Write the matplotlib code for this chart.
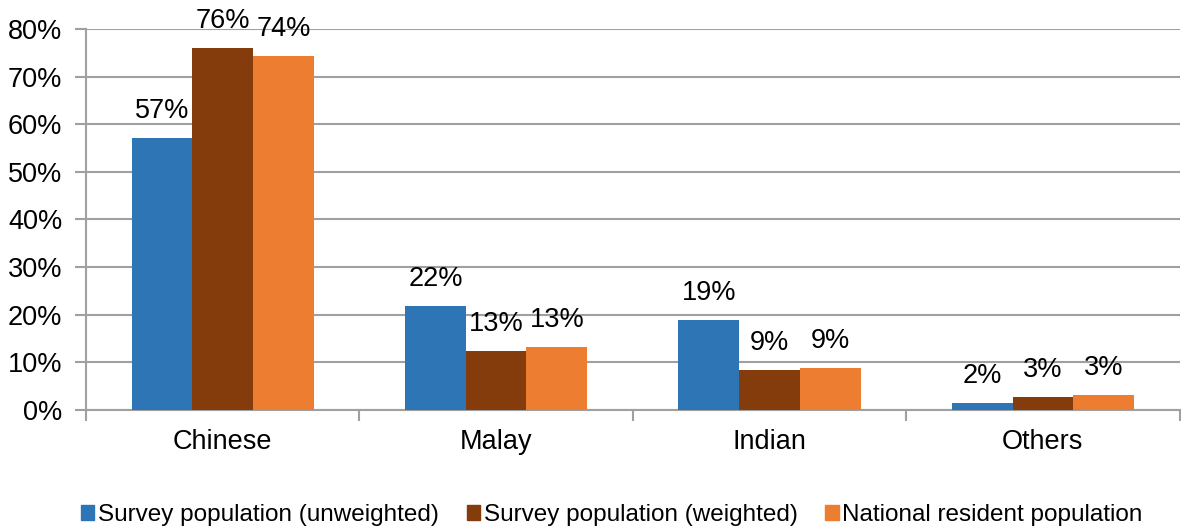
import matplotlib.pyplot as plt
import numpy as np
from matplotlib.patches import Patch

plt.rcParams.update({
    "font.family": ["Liberation Sans", "DejaVu Sans"]})

categories = ["Chinese", "Malay", "Indian", "Others"]
series = ["Survey population (unweighted)", "Survey population (weighted)",
          "National resident population"]
unweighted = [57.1, 21.8, 19.0, 1.5]
weighted = [76.1, 12.4, 8.5, 2.7]
national = [74.3, 13.3, 8.9, 3.1]
labels_unw = ["57%", "22%", "19%", "2%"]
labels_w = ["76%", "13%", "9%", "3%"]
labels_nat = ["74%", "13%", "9%", "3%"]
colors = ["#2E75B6", "#843C0C", "#ED7D31"]

fig = plt.figure(figsize=(11.81, 5.27), dpi=100)
ax = fig.add_axes([0.0728, 0.222, 0.926, 0.723])

x = np.arange(len(categories))
w = 0.222
data = [unweighted, weighted, national]
labs = [labels_unw, labels_w, labels_nat]
for i in range(3):
    bars = ax.bar(x + (i - 1) * w, data[i], width=w, color=colors[i],
                  label=series[i], zorder=3)
    for b, t in zip(bars, labs[i]):
        ax.annotate(t, (b.get_x() + b.get_width() / 2, b.get_height()),
                    xytext=(0, 10), textcoords="offset points",
                    ha="center", va="bottom", fontsize=19.5)

ax.set_ylim(0, 80)
ax.set_xlim(-0.5, 3.5)
ax.set_yticks(range(0, 81, 10))
ax.set_yticklabels([f"{v}%" for v in range(0, 81, 10)], fontsize=19.5)
ax.yaxis.grid(True, color="#a0a0a0", linewidth=1.5, zorder=0)

# category labels between boundary ticks
ax.set_xticks(np.arange(-0.5, 3.6, 1.0))
ax.set_xticklabels([])
ax.set_xticks(x, minor=True)
ax.set_xticklabels(categories, minor=True, fontsize=19.5)
ax.tick_params(axis="x", which="minor", length=0, pad=14)
ax.tick_params(axis="x", which="major", length=8, width=1.5, color="#a0a0a0")
ax.tick_params(axis="y", length=8, width=1.5, color="#a0a0a0", pad=9)

for s in ["top", "right"]:
    ax.spines[s].set_visible(False)
for s in ["left", "bottom"]:
    ax.spines[s].set_color("#a0a0a0")
    ax.spines[s].set_linewidth(1.5)

handles = [Patch(color=c) for c in colors]
fig.legend(handles, series, loc="lower center", bbox_to_anchor=(0.518, -0.04),
           ncol=3, frameon=False, fontsize=17.5, handlelength=0.55,
           handleheight=0.6, handletextpad=0.15, columnspacing=1.15)

plt.savefig("out.png", dpi=100)
